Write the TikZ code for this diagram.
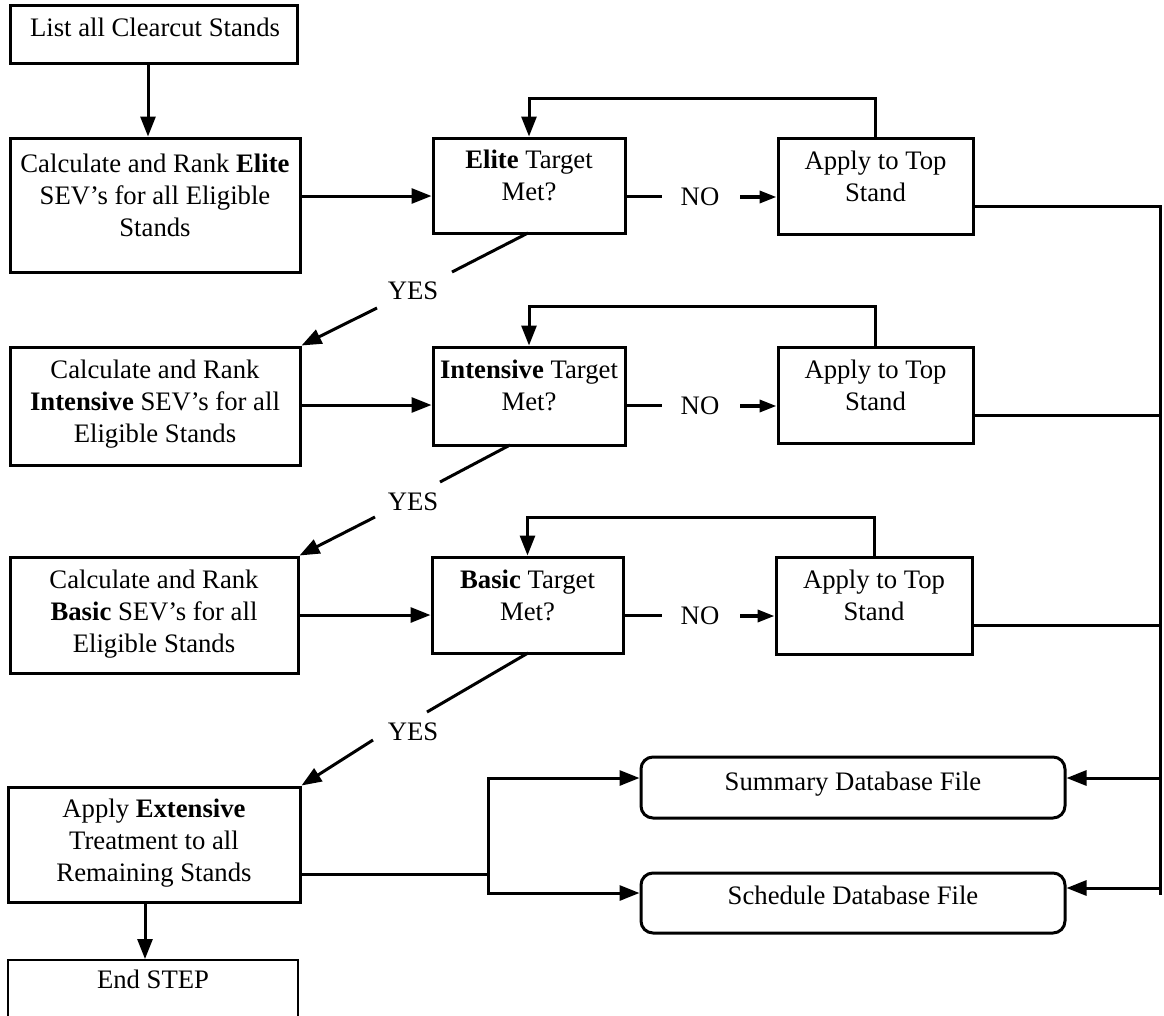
\documentclass[tikz,border=0pt]{standalone}
\usepackage{fontspec}
\setmainfont{Liberation Serif}
\usetikzlibrary{arrows.meta,calc}
\begin{document}
\begin{tikzpicture}[x=1pt,y=-1pt,
  box/.style={draw, line width=3pt, rectangle, inner sep=0pt},
  dbbox/.style={box, rounded corners=12pt},
  txt/.style={font=\fontsize{26.7}{32}\selectfont, align=center, inner sep=0pt, anchor=north},
  lbl/.style={font=\fontsize{26.7}{32}\selectfont, inner sep=0pt, anchor=base},
  ln/.style={line width=3pt},
  arr/.style={line width=3pt, -{Triangle[length=20pt,width=15pt]}},
  sarr/.style={line width=3.5pt, -{Triangle[length=17pt,width=12pt]}},
]
\clip (0,0) rectangle (1164,1015);
\fill[white] (0,0) rectangle (1164,1015);

% boxes
\node[box, minimum width=287pt, minimum height=58pt]  (b1) at (153.5,34) {};
\node[box, minimum width=290pt, minimum height=134pt] (b2) at (155,205) {};
\node[box, minimum width=192pt, minimum height=95pt]  (t1) at (529,185.5) {};
\node[box, minimum width=195pt, minimum height=96pt]  (a1) at (875.5,186) {};
\node[box, minimum width=290pt, minimum height=118pt] (b3) at (155,406) {};
\node[box, minimum width=192pt, minimum height=98pt]  (t2) at (529,396) {};
\node[box, minimum width=195pt, minimum height=96pt]  (a2) at (875.5,395) {};
\node[box, minimum width=288pt, minimum height=116pt] (b4) at (154,615) {};
\node[box, minimum width=191pt, minimum height=96pt]  (t3) at (527.5,605) {};
\node[box, minimum width=196pt, minimum height=97pt]  (a3) at (874,605.5) {};
\node[box, minimum width=292pt, minimum height=115pt] (b5) at (154,844.5) {};
\node[box, line width=2pt, minimum width=290pt, minimum height=80pt] (e) at (153,1000) {};
\node[dbbox, minimum width=424pt, minimum height=61pt] (sum) at (853,787.5) {};
\node[dbbox, minimum width=424pt, minimum height=60pt] (sch) at (853,903) {};

% texts
\node[txt] (b1t) at (155,18) {List all Clearcut Stands};
\node[txt] (b2t) at (155,154) {Calculate and Rank \textbf{Elite}\\SEV’s for all Eligible\\Stands};
\node[txt] (t1t) at (529,150) {\textbf{Elite} Target\\Met?};
\node[txt] (a1t) at (875.5,151) {Apply to Top\\Stand};
\node[txt] (b3t) at (155,360) {Calculate and Rank\\\textbf{Intensive} SEV’s for all\\Eligible Stands};
\node[txt] (t2t) at (529,360) {\textbf{Intensive} Target\\Met?};
\node[txt] (a2t) at (875.5,360) {Apply to Top\\Stand};
\node[txt] (b4t) at (154,570) {Calculate and Rank\\\textbf{Basic} SEV’s for all\\Eligible Stands};
\node[txt] (t3t) at (527.5,570) {\textbf{Basic} Target\\Met?};
\node[txt] (a3t) at (874,570) {Apply to Top\\Stand};
\node[txt] (b5t) at (154,799) {Apply \textbf{Extensive}\\Treatment to all\\Remaining Stands};
\node[txt] (et) at (153,970) {End STEP};
\node[txt] (sumt) at (853,772) {Summary Database File};
\node[txt] (scht) at (853,886) {Schedule Database File};

% labels
\node[lbl] (n1) at (700,205) {NO};
\node[lbl] (n2) at (700,414) {NO};
\node[lbl] (n3) at (700,624) {NO};
\node[lbl] (y1) at (413,299) {YES};
\node[lbl] (y2) at (413,510) {YES};
\node[lbl] (y3) at (413,740) {YES};

% helper coordinates
\coordinate (k1) at (148,0);
\coordinate (k2) at (145,0);
\coordinate (r1) at (0,196);
\coordinate (r2) at (0,405);
\coordinate (r3) at (0,615);
\coordinate (x1) at (0,206);
\coordinate (x2) at (0,415);
\coordinate (x3) at (0,625);
\coordinate (rail) at (1160,0);
\coordinate (railend) at (1160,895);
\coordinate (ys1) at (0,778);
\coordinate (ys2) at (0,893);
\coordinate (ys3) at (0,888);
\coordinate (br) at (488,874);

% vertical flow
\draw[arr] (b1.south -| k1) -- (b2.north -| k1);
\draw[arr] (b5.south -| k2) -- (e.north -| k2);

% calc -> target
\draw[arr] (b2.east |- r1) -- (t1.west |- r1);
\draw[arr] (b3.east |- r2) -- (t2.west |- r2);
\draw[arr] (b4.east |- r3) -- (t3.west |- r3);

% NO branches
\coordinate (n1a) at (662,196); \coordinate (n1b) at (740,197);
\coordinate (n2a) at (662,405); \coordinate (n2b) at (740,406);
\coordinate (n3a) at (662,615); \coordinate (n3b) at (740,616);
\draw[ln] (t1.east |- r1) -- (n1a);
\draw[sarr] (n1b) -- (a1.west |- n1b);
\draw[ln] (t2.east |- r2) -- (n2a);
\draw[sarr] (n2b) -- (a2.west |- n2b);
\draw[ln] (t3.east |- r3) -- (n3a);
\draw[sarr] (n3b) -- (a3.west |- n3b);

% loops back
\draw[arr] (a1.north) -- ++(0,-38) -| (t1.north);
\draw[arr] (a2.north) -- ++(0,-39) -| (t2.north);
\draw[arr] (a3.north) -- ++(0,-38) -| (t3.north);

% YES branches
\coordinate (y1a) at (528,233); \coordinate (y1b) at (452,272);
\coordinate (y1c) at (377,308);
\coordinate (y2a) at (510,445); \coordinate (y2b) at (440,482);
\coordinate (y2c) at (375,517);
\coordinate (y3a) at (528,653); \coordinate (y3b) at (427,712);
\coordinate (y3c) at (373,740);
\draw[ln] (y1a) -- (y1b);
\draw[arr] (y1c) -- (b3.north east);
\draw[ln] (y2a) -- (y2b);
\draw[arr] (y2c) -- (b4.north east);
\draw[ln] (y3a) -- (y3b);
\draw[arr] (y3c) -- (b5.north east);

% right rail
\draw[ln] (a1.east |- x1) -- (rail |- x1) -- (railend);
\draw[ln] (a2.east |- x2) -- (rail |- x2);
\draw[ln] (a3.east |- x3) -- (rail |- x3);
\draw[arr] (rail |- ys1) -- (sum.east |- ys1);
\draw[arr] (rail |- ys3) -- (sch.east |- ys3);

% extensive to databases
\draw[ln] (b5.east |- br) -- (br);
\draw[arr] (br) |- (sum.west |- ys1);
\draw[arr] (br) |- (sch.west |- ys2);
\end{tikzpicture}
\end{document}
